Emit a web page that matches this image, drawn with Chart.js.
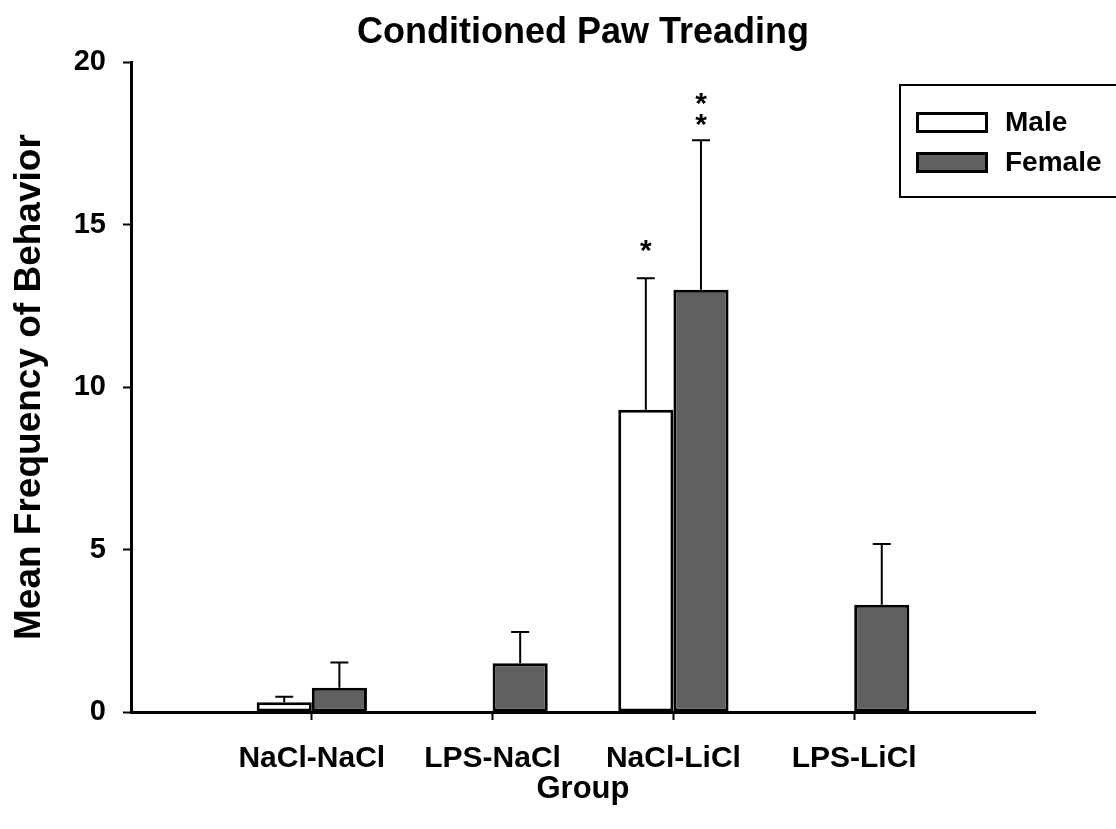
<!DOCTYPE html>
<html>
<head>
<meta charset="utf-8">
<title>Conditioned Paw Treading</title>
<script src="https://cdn.jsdelivr.net/npm/chart.js@4.4.1/dist/chart.umd.min.js"></script>
<style>
  html, body { margin: 0; padding: 0; background: #fff; }
</style>
</head>
<body>
<canvas id="paw" width="1116" height="829"></canvas>
<script>
// data
const groups = ["NaCl-NaCl", "LPS-NaCl", "NaCl-LiCl", "LPS-LiCl"];
const maleMeans = [0.3, 0, 9.3, 0];
const maleSem = [0.17, 0, 4.05, 0];
const femaleMeans = [0.75, 1.5, 13.0, 3.3];
const femaleSem = [0.77, 0.96, 4.6, 1.87];
const maleStars = ["", "", "*", ""];
const femaleStars = ["", "", "**", ""];
const yTicks = [0, 5, 10, 15, 20];

const FONT = "'Liberation Sans', Arial, sans-serif";

// empty slot at each end so the groups sit on the inner ticks
const labels = ["", ...groups, ""];
const pad = (arr) => [null, ...arr, null];

// error bars (upward only) + significance stars
const errorBars = {
  id: "errorBars",
  afterDatasetsDraw(chart) {
    const ctx = chart.ctx;
    const y = chart.scales.y;
    chart.data.datasets.forEach((ds, di) => {
      const meta = chart.getDatasetMeta(di);
      meta.data.forEach((bar, i) => {
        const mean = ds.data[i];
        const sem = ds.sem[i];
        if (mean == null) return;
        const yBase = y.getPixelForValue(mean);
        const yTop = y.getPixelForValue(mean + (sem || 0));
        ctx.save();
        if (sem) {
          ctx.strokeStyle = "#000";
          ctx.lineWidth = 2;
          ctx.beginPath();
          ctx.moveTo(bar.x, yBase);
          ctx.lineTo(bar.x, yTop);
          ctx.moveTo(bar.x - 9, yTop);
          ctx.lineTo(bar.x + 9, yTop);
          ctx.stroke();
        }
        const marks = ds.stars[i] || "";
        ctx.fillStyle = "#000";
        ctx.font = "bold 30px " + FONT;
        ctx.textAlign = "center";
        ctx.textBaseline = "alphabetic";
        for (let k = 0; k < marks.length; k++) {
          const cy = yTop - ds.starGap - k * 21;
          ctx.fillText("*", bar.x, cy + 16);
        }
        ctx.restore();
      });
    });
  }
};

// boxed legend, top right
const boxLegend = {
  id: "boxLegend",
  afterDraw(chart) {
    const ctx = chart.ctx;
    ctx.save();
    ctx.strokeStyle = "#000";
    ctx.lineWidth = 2;
    ctx.strokeRect(900, 85, 240, 112);
    chart.data.datasets.forEach((ds, i) => {
      const top = 113.5 + i * 40;
      ctx.fillStyle = ds.backgroundColor;
      ctx.fillRect(917.5, top, 69, 18);
      ctx.lineWidth = 3;
      ctx.strokeStyle = "#000";
      ctx.strokeRect(917.5, top, 69, 18);
      ctx.fillStyle = "#000";
      ctx.font = "bold 28px " + FONT;
      ctx.textAlign = "left";
      ctx.textBaseline = "middle";
      ctx.fillText(ds.label, 1005, top + 10);
    });
    ctx.restore();
  }
};

new Chart(document.getElementById("paw"), {
  type: "bar",
  data: {
    labels: labels,
    datasets: [
      {
        label: "Male",
        data: pad(maleMeans),
        sem: pad(maleSem),
        stars: pad(maleStars),
        starGap: 34,
        backgroundColor: "#ffffff",
        borderColor: "#000000",
        borderWidth: 3,
        borderSkipped: false
      },
      {
        label: "Female",
        data: pad(femaleMeans),
        sem: pad(femaleSem),
        stars: pad(femaleStars),
        starGap: 22,
        backgroundColor: "#606060",
        borderColor: "#000000",
        borderWidth: 3,
        borderSkipped: false
      }
    ]
  },
  options: {
    responsive: false,
    animation: false,
    layout: { padding: { top: 0, right: 81, bottom: 0, left: 0 } },
    datasets: { bar: { categoryPercentage: 0.61, barPercentage: 1 } },
    plugins: {
      legend: { display: false },
      tooltip: { enabled: false },
      title: {
        display: true,
        text: "Conditioned Paw Treading",
        color: "#000",
        fullSize: false,
        font: { family: FONT, size: 36, weight: "bold" },
        padding: { top: 11, bottom: 8 }
      }
    },
    scales: {
      x: {
        offset: false,
        grid: {
          offset: false,
          drawOnChartArea: false,
          tickLength: 8,
          tickWidth: 2,
          tickColor: (c) => (labels[c.index] ? "#000" : "rgba(0,0,0,0)")
        },
        border: { display: true, color: "#000", width: 3 },
        ticks: {
          color: "#000",
          autoSkip: false,
          maxRotation: 0,
          padding: 21,
          font: { family: FONT, size: 30, weight: "bold" }
        },
        title: {
          display: true,
          text: "Group",
          color: "#000",
          font: { family: FONT, size: 31, weight: "bold" },
          padding: { top: 0, bottom: 21 }
        },
        afterFit: (s) => { s.height = 117; }
      },
      y: {
        min: 0,
        max: 20,
        afterBuildTicks: (s) => { s.ticks = yTicks.map((v) => ({ value: v })); },
        grid: { drawOnChartArea: false, tickLength: 8, tickWidth: 2, tickColor: "#000" },
        border: { display: true, color: "#000", width: 3 },
        ticks: {
          color: "#000",
          padding: 17,
          font: { family: FONT, size: 29, weight: "bold" }
        },
        title: {
          display: true,
          text: "Mean Frequency of Behavior",
          color: "#000",
          font: { family: FONT, size: 37, weight: "bold" },
          padding: { top: 8, bottom: 0 }
        },
        afterFit: (s) => { s.width = 131; }
      }
    }
  },
  plugins: [errorBars, boxLegend]
});
</script>
</body>
</html>
